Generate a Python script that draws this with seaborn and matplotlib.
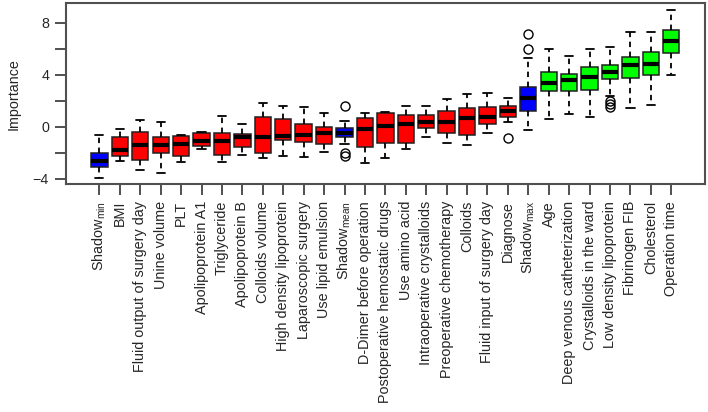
import matplotlib
matplotlib.use('Agg')
import numpy as np
import pandas as pd
import matplotlib.pyplot as plt
import seaborn as sns

# feature names in plotted order
features = [
    r'Shadow$_{\mathregular{min}}$', 'BMI', 'Fluid output of surgery day', 'Unine volume', 'PLT',
    'Apolipoprotein A1', 'Triglyceride', 'Apolipoprotein B', 'Colloids volume',
    'High density lipoprotein', 'Laparoscopic surgery', 'Use lipid emulsion',
    r'Shadow$_{\mathregular{mean}}$', 'D-Dimer before operation', 'Postoperative hemostatic drugs',
    'Use amino acid', 'Intraoperative crystalloids', 'Preoperative chemotherapy', 'Colloids',
    'Fluid input of surgery day', 'Diagnose', r'Shadow$_{\mathregular{max}}$', 'Age',
    'Deep venous catheterization', 'Crystalloids in the ward', 'Low density lipoprotein',
    'Fibrinogen FIB', 'Cholesterol', 'Operation time',
]
group = (['shadow'] + ['rejected'] * 11 + ['shadow'] + ['rejected'] * 8
         + ['shadow'] + ['confirmed'] * 7)

# box statistics
whis_lo = [-3.97, -2.66, -3.35, -3.54, -2.74, -1.72, -2.74, -2.20, -2.43, -2.23, -2.31, -1.92,
           -1.36, -2.82, -2.43, -1.72, -0.77, -1.23, -1.41, -0.51, 0.39, -0.26, 0.56,
           0.95, 0.72, 2.35, 1.41, 1.64, 3.95]
q1 = [-3.08, -2.25, -2.56, -2.05, -2.25, -1.46, -2.18, -1.54, -2.05, -1.02, -1.15, -1.36,
      -0.82, -1.54, -1.23, -1.23, -0.13, -0.51, -0.64, 0.21, 0.72, 1.21, 2.72,
      2.72, 2.82, 3.64, 3.72, 3.95, 5.67]
median = [-2.64, -1.79, -1.41, -1.41, -1.36, -1.08, -1.10, -0.77, -0.77, -0.72, -0.61, -0.46,
          -0.46, -0.20, 0.05, 0.21, 0.36, 0.36, 0.64, 0.72, 1.21, 2.21, 3.33,
          3.59, 3.79, 4.18, 4.72, 4.80, 6.61]
q3 = [-2.00, -0.77, -0.41, -0.79, -0.72, -0.46, -0.51, -0.55, 0.72, 0.59, 0.21, 0.00,
      -0.08, 0.64, 1.03, 0.90, 0.90, 1.23, 1.41, 1.51, 1.56, 3.03, 4.18,
      4.08, 4.59, 4.75, 5.33, 5.77, 7.41]
whis_hi = [-0.64, -0.20, 0.52, 0.36, -0.62, -0.40, 0.80, 0.20, 1.80, 1.60, 1.51, 1.03,
           0.40, 1.03, 1.10, 1.59, 1.59, 2.13, 2.49, 2.62, 2.21, 5.26, 5.95,
           5.44, 5.95, 6.15, 7.26, 7.26, 8.97]
outliers = {
    r'Shadow$_{\mathregular{mean}}$': [1.60, -2.00, -2.25],
    'Diagnose': [-0.90],
    r'Shadow$_{\mathregular{max}}$': [5.95, 7.10],
    'Low density lipoprotein': [1.95, 1.75, 1.50],
}

colors = {'shadow': '#0000FF', 'rejected': '#FF0000', 'confirmed': '#00FF00'}

# long table whose quartiles / whisker ends reproduce the statistics above
rows = []
for i, name in enumerate(features):
    vals = ([whis_lo[i]] + [q1[i]] * 20 + [median[i]] * 20 + [q3[i]] * 20
            + [whis_hi[i]] + outliers.get(name, []))
    for v in vals:
        rows.append({'feature': name, 'group': group[i], 'importance': v})
df = pd.DataFrame(rows)

sns.set_theme(style='ticks')
plt.rcParams['font.family'] = ['Liberation Sans', 'DejaVu Sans']
plt.rcParams['mathtext.fontset'] = 'custom'
plt.rcParams['mathtext.rm'] = 'Liberation Sans'

fig = plt.figure(figsize=(7.08, 4.12), dpi=100)
ax = fig.add_axes([65.7 / 708, 1 - 184.3 / 412, (705 - 65.7) / 708, (184.3 - 3.3) / 412])

frame = '#505050'
sns.boxplot(data=df, x='feature', y='importance', hue='group', order=features,
            palette=colors, saturation=1, dodge=False, legend=False, width=0.8,
            linecolor='#202020', linewidth=1.1, ax=ax,
            medianprops=dict(color='black', linewidth=3),
            whiskerprops=dict(color='black', linewidth=1.3, linestyle=(0, (3, 2.5))),
            capprops=dict(color='black', linewidth=1.3),
            flierprops=dict(marker='o', markerfacecolor='none', markeredgecolor='black',
                            markersize=6.5, markeredgewidth=1.0))

ax.set_xlim(-1.65, len(features) - 1 + 1.65)
ax.set_ylim(-4.43, 9.49)
ax.set_yticks([-4, -2, 0, 2, 4, 6, 8])
ax.set_yticklabels(['\u22124', '', '0', '', '4', '', '8'])
ax.set_xlabel('')
ax.set_ylabel('Importance', fontsize=10.3, labelpad=9)
ax.tick_params(axis='x', rotation=90, labelsize=10.4, length=8, width=1.4, color=frame, pad=4)
ax.tick_params(axis='y', labelsize=10.3, length=8, width=1.4, color=frame, pad=4)
for s in ax.spines.values():
    s.set_visible(True)
    s.set_color(frame)
    s.set_linewidth(1.5)

fig.savefig('out.png', dpi=100)
